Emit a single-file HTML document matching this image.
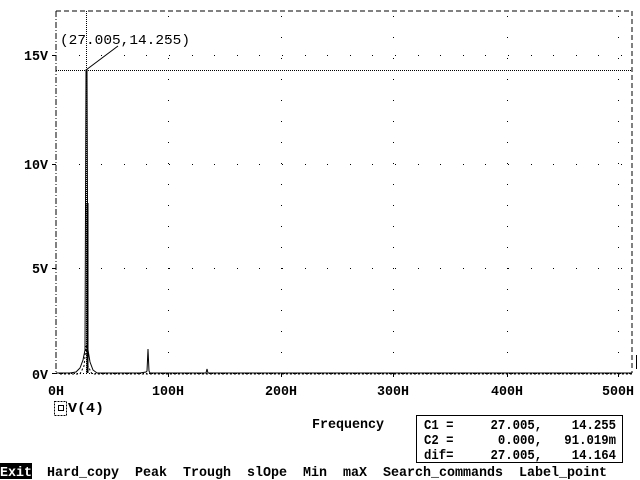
<!DOCTYPE html>
<html><head><meta charset="utf-8"><style>
html,body{margin:0;padding:0;background:#fff;width:640px;height:480px;overflow:hidden}
svg text{font-family:"Liberation Mono","DejaVu Sans Mono",monospace;font-weight:bold;font-size:14px;fill:#000}
</style></head><body>
<svg id="s" width="640" height="480" xmlns="http://www.w3.org/2000/svg">
<rect x="0" y="0" width="640" height="480" fill="#fff"/>
<line x1="56" y1="11" x2="632" y2="11" stroke="#000" stroke-dasharray="5,3"/>
<line x1="632" y1="11" x2="632" y2="373" stroke="#000" stroke-dasharray="5,3"/>
<line x1="56" y1="11" x2="56" y2="373" stroke="#000" stroke-dasharray="6,2,1,2"/>
<line x1="56" y1="373.5" x2="632" y2="373.5" stroke="#000" stroke-dasharray="1,2"/>
<line x1="636.5" y1="355" x2="636.5" y2="369" stroke="#000"/>
<g stroke="#000">
<line x1="52" y1="373.5" x2="56" y2="373.5"/><line x1="52" y1="268.5" x2="56" y2="268.5"/>
<line x1="52" y1="164.5" x2="56" y2="164.5"/><line x1="52" y1="55.5" x2="56" y2="55.5"/>
<line x1="168.5" y1="373" x2="168.5" y2="377"/><line x1="281.5" y1="373" x2="281.5" y2="377"/>
<line x1="393.5" y1="373" x2="393.5" y2="377"/><line x1="507.5" y1="373" x2="507.5" y2="377"/>
<line x1="618.5" y1="373" x2="618.5" y2="377"/>
</g>
<text x="32" y="379" textLength="16" lengthAdjust="spacingAndGlyphs">0V</text><text x="32" y="273" textLength="16" lengthAdjust="spacingAndGlyphs">5V</text><text x="24" y="169" textLength="24" lengthAdjust="spacingAndGlyphs">10V</text><text x="24" y="60" textLength="24" lengthAdjust="spacingAndGlyphs">15V</text>
<text x="48" y="395" textLength="16" lengthAdjust="spacingAndGlyphs">0H</text><text x="152" y="395" textLength="32" lengthAdjust="spacingAndGlyphs">100H</text><text x="265" y="395" textLength="32" lengthAdjust="spacingAndGlyphs">200H</text>
<text x="377" y="395" textLength="32" lengthAdjust="spacingAndGlyphs">300H</text><text x="491" y="395" textLength="32" lengthAdjust="spacingAndGlyphs">400H</text><text x="602" y="395" textLength="32" lengthAdjust="spacingAndGlyphs">500H</text>
<g id="dots" fill="#000"></g>
<line x1="86.5" y1="11" x2="86.5" y2="373" stroke="#000" stroke-dasharray="1,1"/>
<line x1="56" y1="70.5" x2="632" y2="70.5" stroke="#000" stroke-dasharray="1,1"/>
<line x1="86" y1="70" x2="118" y2="46" stroke="#000"/>
<text x="60" y="44" textLength="130" lengthAdjust="spacingAndGlyphs" style="font-weight:normal;font-size:14px">(27.005,14.255)</text>
<polyline fill="none" stroke="#000" stroke-width="1" points="56,373 70,373 76,372 80,368 83,360 85,350 86,70 87,70 88,350 90,362 93,370 97,373 140,373 146,372 147,371 148,349 149,371 150,373 206,373 207,369 208,373 632,373"/>
<line x1="87.5" y1="203" x2="87.5" y2="373" stroke="#000" stroke-width="2"/>
<polyline fill="none" stroke="#000" points="60,374 80,374 84,366 86,346 88,366 92,374 632,374" stroke-dasharray="2,2"/>
<rect x="54.5" y="401.5" width="12" height="14" fill="none" stroke="#000" stroke-dasharray="2,1"/>
<rect x="58.5" y="405.5" width="5" height="5" fill="none" stroke="#000"/>
<text x="68" y="412" textLength="36" lengthAdjust="spacingAndGlyphs">V(4)</text>
<text x="312" y="428" textLength="72" lengthAdjust="spacingAndGlyphs">Frequency</text>
<rect x="416.5" y="415.5" width="206" height="47" fill="none" stroke="#000"/>
<text x="424" y="429" xml:space="preserve" textLength="192" lengthAdjust="spacingAndGlyphs">C1 =     27.005,    14.255</text>
<text x="424" y="444" xml:space="preserve" textLength="192" lengthAdjust="spacingAndGlyphs">C2 =      0.000,   91.019m</text>
<text x="424" y="459" xml:space="preserve" textLength="192" lengthAdjust="spacingAndGlyphs">dif=     27.005,    14.164</text>
<rect x="0" y="463" width="32" height="16" fill="#000"/>
<text x="0" y="476" style="fill:#fff" textLength="32" lengthAdjust="spacingAndGlyphs">Exit</text>
<text x="47" y="476" xml:space="preserve" textLength="560" lengthAdjust="spacingAndGlyphs">Hard_copy  Peak  Trough  slOpe  Min  maX  Search_commands  Label_point</text>
</svg>
<script>
var g=document.getElementById('dots'),ns='http://www.w3.org/2000/svg';
function d(x,y){var r=document.createElementNS(ns,'rect');r.setAttribute('x',Math.round(x));r.setAttribute('y',Math.round(y));r.setAttribute('width',1);r.setAttribute('height',1);g.appendChild(r);}
var xs=[168,281,393,507,618],ys=[268,164,55];
ys.forEach(function(y){for(var x=56+22.6;x<632;x+=22.6)d(x,y);});
xs.forEach(function(x){for(var y=373-21;y>11;y-=21)d(x,y);});
</script>
</body></html>
